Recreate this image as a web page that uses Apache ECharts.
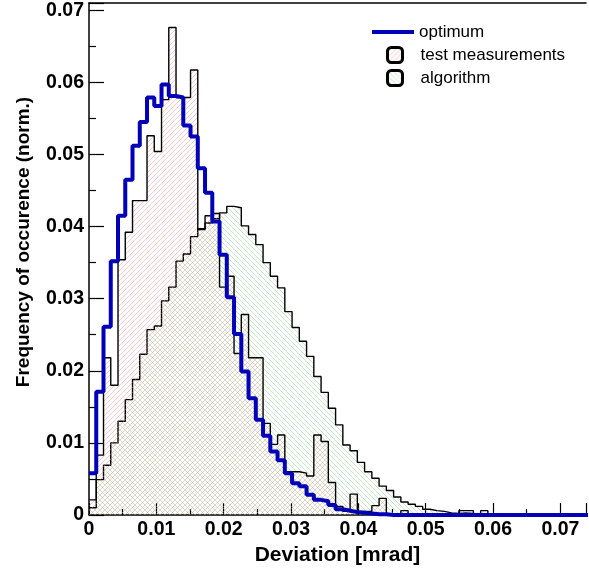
<!DOCTYPE html>
<html>
<head>
<meta charset="utf-8">
<script src="https://cdn.jsdelivr.net/npm/echarts@6/dist/echarts.min.js"></script>
<style>
html,body{margin:0;padding:0;background:#fff;}
#chart{width:589px;height:575px;}
</style>
</head>
<body>
<div id="chart"></div>
<script>
// ---- data ----
const binWidth = 0.07 / 65;   // histogram bin width [mrad]
const seriesNames = ['optimum', 'test measurements', 'algorithm'];
const optimum = [0.0058, 0.0171, 0.0261, 0.0352, 0.0415, 0.0465, 0.0512, 0.0545, 0.0579, 0.0567,
  0.0597, 0.0581, 0.0579, 0.0540, 0.0525, 0.0481, 0.0447, 0.0407, 0.0361, 0.0302,
  0.0251, 0.0199, 0.0162, 0.0132, 0.0110, 0.0088, 0.0076, 0.0058, 0.0044, 0.0040,
  0.0028, 0.0021, 0.0019, 0.0014, 0.0008, 0.0006, 0.0004, 0.0003, 0.0002, 0.0001,
  0.0001, 0, 0, 0, 0, 0, 0, 0, 0, 0,
  0, 0, 0, 0, 0, 0, 0, 0, 0, 0,
  0, 0, 0, 0, 0, 0, 0, 0, 0];
const testMeasurements = [0.0021, 0.0083, 0.0218, 0.0180, 0.0354, 0.0392, 0.0436, 0.0436, 0.0526, 0.0504,
  0.0576, 0.0676, 0.0579, 0.0579, 0.0617, 0.0396, 0.0415, 0.0418, 0.0316, 0.0331,
  0.0224, 0.0278, 0.0218, 0.0218, 0.0127, 0.0098, 0.0111, 0.0060, 0.0060, 0.0058,
  0.0054, 0.0111, 0.0102, 0.0045, 0.0012, 0.0005, 0.0029, 0.0005, 0.0005, 0.0013,
  0.0023, 0, 0, 0.0006, 0, 0, 0, 0, 0, 0,
  0, 0.0006, 0.0006, 0, 0.0006, 0];
const algorithm = [0.0010, 0.0049, 0.0069, 0.0100, 0.0130, 0.0160, 0.0188, 0.0223, 0.0257, 0.0262,
  0.0297, 0.0316, 0.0352, 0.0362, 0.0386, 0.0397, 0.0405, 0.0411, 0.0419, 0.0428,
  0.0426, 0.0401, 0.0389, 0.0375, 0.0350, 0.0331, 0.0315, 0.0282, 0.0260, 0.0241,
  0.0220, 0.0192, 0.0170, 0.0148, 0.0125, 0.0097, 0.0089, 0.0073, 0.0060, 0.0051,
  0.0040, 0.0034, 0.0025, 0.0018, 0.0015, 0.0012, 0.0008, 0.0006, 0.0005, 0.0003,
  0.0002, 0.0003, 0.0002, 0.0001, 0.0001, 0];
const xTicks = [0, 0.01, 0.02, 0.03, 0.04, 0.05, 0.06, 0.07];
const yTicks = [0, 0.01, 0.02, 0.03, 0.04, 0.05, 0.06, 0.07];
const xTitle = 'Deviation [mrad]';
const yTitle = 'Frequency of occurence (norm.)';

// ---- helpers ----
function stepData(vals) {
  const d = vals.map((v, i) => [i * binWidth, v]);
  d.push([vals.length * binWidth, 0]);
  return d;
}
function hatch(color, dir) {
  const s = 5;
  const c = document.createElement('canvas');
  c.width = s; c.height = s;
  const g = c.getContext('2d');
  g.strokeStyle = color; g.lineWidth = 1;
  g.beginPath();
  if (dir === '/') {
    g.moveTo(-1, s + 1); g.lineTo(s + 1, -1);
    g.moveTo(-2, 2); g.lineTo(2, -2);
    g.moveTo(s - 2, s + 2); g.lineTo(s + 2, s - 2);
  } else {
    g.moveTo(-1, -1); g.lineTo(s + 1, s + 1);
    g.moveTo(-2, s - 2); g.lineTo(2, s + 2);
    g.moveTo(s - 2, -2); g.lineTo(s + 2, 2);
  }
  g.stroke();
  return c;
}
const redHatch = { image: hatch('rgba(230,130,130,0.42)', '/'), repeat: 'repeat' };
const greenHatch = { image: hatch('rgba(120,195,120,0.42)', '\\'), repeat: 'repeat' };
const FONT = 'Liberation Sans, Arial, Helvetica, sans-serif';
const blue = '#0000b8';

function fmt(v, ticks) {
  const hit = ticks.find(t => Math.abs(t - v) < 1e-9);
  if (hit === undefined) return '';
  return hit === 0 ? '0' : hit.toFixed(2);
}

const chart = echarts.init(document.getElementById('chart'), null, { renderer: 'canvas' });
chart.setOption({
  animation: false,
  backgroundColor: '#fff',
  grid: { left: 89, right: 0, top: 3, bottom: 60, containLabel: false },
  xAxis: [{
    type: 'value', min: 0, max: 0.0738, interval: 0.01,
    axisLine: { show: true, onZero: false, lineStyle: { color: '#000', width: 1.5 } },
    axisTick: { show: true, inside: true, length: 12, lineStyle: { color: '#000', width: 1.2 } },
    minorTick: { show: true, splitNumber: 2, length: 6, lineStyle: { color: '#000', width: 1.2 } },
    splitLine: { show: false },
    axisLabel: { fontSize: 19.5, fontWeight: 'bold', color: '#000', fontFamily: FONT, margin: 5,
      formatter: v => fmt(v, xTicks) },
    name: xTitle, nameLocation: 'middle', nameGap: 30,
    nameTextStyle: { fontSize: 21, fontWeight: 'bold', color: '#000', fontFamily: FONT }
  }, {
    type: 'value', position: 'top', min: 0, max: 0.0738,
    axisLine: { show: true, onZero: false, lineStyle: { color: '#000', width: 1.5 } },
    axisTick: { show: false }, axisLabel: { show: false }, splitLine: { show: false }
  }],
  yAxis: [{
    type: 'value', min: 0, max: 0.071, interval: 0.01,
    axisLine: { show: true, onZero: false, lineStyle: { color: '#000', width: 1.5 } },
    axisTick: { show: true, inside: true, length: 15, lineStyle: { color: '#000', width: 1.2 } },
    minorTick: { show: true, splitNumber: 2, length: 7, lineStyle: { color: '#000', width: 1.2 } },
    splitLine: { show: false },
    axisLabel: { fontSize: 19.5, fontWeight: 'bold', color: '#000', fontFamily: FONT, margin: 5,
      formatter: v => fmt(v, yTicks) },
    name: yTitle, nameLocation: 'middle', nameGap: 56, nameRotate: 90,
    nameTextStyle: { fontSize: 19, fontWeight: 'bold', color: '#000', fontFamily: FONT, padding: [0, 0, 0, 34] }
  }],
  legend: [{
    data: [{ name: seriesNames[0], icon: 'rect', itemStyle: { color: blue } }],
    left: 372, top: 23, itemWidth: 42, itemHeight: 4, padding: 0, selectedMode: false,
    textStyle: { fontSize: 17, lineHeight: 18, color: '#000', fontFamily: FONT }
  }, {
    data: [
      { name: seriesNames[1], icon: 'roundRect', itemStyle: { color: redHatch, borderColor: '#000', borderWidth: 3 } },
      { name: seriesNames[2], icon: 'roundRect', itemStyle: { color: greenHatch, borderColor: '#000', borderWidth: 3 } }
    ],
    orient: 'vertical', left: 386, top: 46, itemWidth: 15, itemHeight: 15, itemGap: 5, padding: 0,
    selectedMode: false,
    textStyle: { fontSize: 17, lineHeight: 18, color: '#000', fontFamily: FONT, padding: [0, 0, 0, 13] }
  }],
  series: [{
    name: seriesNames[2], type: 'line', step: 'end', data: stepData(algorithm),
    showSymbol: false, symbol: 'none', z: 2,
    itemStyle: { color: '#000' },
    lineStyle: { color: '#000', width: 1.4 },
    areaStyle: { color: greenHatch, opacity: 1 }
  }, {
    name: seriesNames[1], type: 'line', step: 'end', data: stepData(testMeasurements),
    showSymbol: false, symbol: 'none', z: 3,
    itemStyle: { color: '#000' },
    lineStyle: { color: '#000', width: 1.4 },
    areaStyle: { color: redHatch, opacity: 1 }
  }, {
    name: seriesNames[0], type: 'line', step: 'end', data: stepData(optimum),
    showSymbol: false, symbol: 'none', z: 4,
    itemStyle: { color: blue },
    lineStyle: { color: blue, width: 4 }
  }]
});
</script>
</body>
</html>
